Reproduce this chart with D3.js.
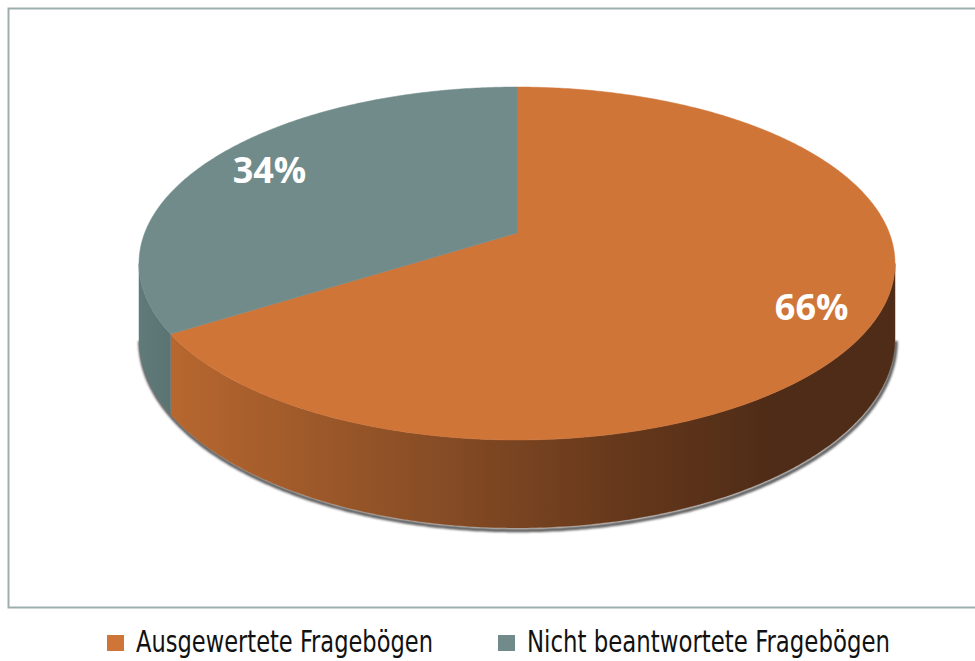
<!DOCTYPE html>
<html>
<head>
<meta charset="utf-8">
<script src="https://cdn.jsdelivr.net/npm/d3@7"></script>
<style>
html,body{margin:0;padding:0;background:#fff;}
svg{display:block;}
</style>
</head>
<body>
<svg id="chart" width="975" height="661"></svg>
<script>
const categories = ["Ausgewertete Fragebögen", "Nicht beantwortete Fragebögen"];
const values = [66, 34];
const valueLabels = ["66%", "34%"];
const topColors = ["#d07538", "#718b8a"];

const svg = d3.select("#chart");

// frame
svg.append("rect").attr("x", 8.5).attr("y", 8.5).attr("width", 980).attr("height", 599)
  .attr("fill", "none").attr("stroke", "#9dafad").attr("stroke-width", 2);

// 3D perspective pie geometry
const cx = 517, cy = 233;        // projected centre of the pie top
const k = 0.1728;                // perspective factor
const Ax = 372.3, By = 171.2;    // horizontal / vertical radius factors
const depth = 72.8;              // thickness
const rScale = d3.scaleLinear().domain([0, 1]).range([0, 1]);

function proj(a, r, z) {
  const X = rScale(r) * Math.sin(a);
  const Y = -rScale(r) * Math.cos(a);
  const w = 1 - k * Y;
  return [cx + Ax * X / w, cy + By * Y / w + z * depth / w];
}

const pie = d3.pie().sort(null).value(d => d)(values);

const defs = svg.append("defs");
const gO = defs.append("linearGradient").attr("id", "sideO")
  .attr("gradientUnits", "userSpaceOnUse").attr("x1", 172).attr("x2", 770).attr("y1", 0).attr("y2", 0);
gO.append("stop").attr("offset", 0).attr("stop-color", "#b7672f");
gO.append("stop").attr("offset", 0.45).attr("stop-color", "#864c25");
gO.append("stop").attr("offset", 0.75).attr("stop-color", "#66381b");
gO.append("stop").attr("offset", 1).attr("stop-color", "#4f2c17");
const gG = defs.append("linearGradient").attr("id", "sideG")
  .attr("gradientUnits", "userSpaceOnUse").attr("x1", 140).attr("x2", 180).attr("y1", 0).attr("y2", 0);
gG.append("stop").attr("offset", 0).attr("stop-color", "#607a79");
gG.append("stop").attr("offset", 1).attr("stop-color", "#587271");
const sideFills = ["url(#sideO)", "url(#sideG)"];

const blur = defs.append("filter").attr("id", "blur").attr("x", "-5%").attr("y", "-5%").attr("width", "110%").attr("height", "110%");
blur.append("feGaussianBlur").attr("stdDeviation", 1.2);

const line = d3.line();
function arcPts(a0, a1, r, z) {
  const n = Math.max(2, Math.ceil((a1 - a0) / 0.01));
  return d3.range(n + 1).map(i => proj(a0 + (a1 - a0) * i / n, r, z));
}

// visible side range
const visLo = Math.PI / 2 + Math.asin(k), visHi = 3 * Math.PI / 2 - Math.asin(k);

// shadow under the pie (bottom outline)
const shadowPts = arcPts(visLo, visHi, 1, 1).map(p => [p[0] + 1, p[1] + 2.5]);
svg.append("path").attr("d", line(shadowPts)).attr("fill", "none")
  .attr("stroke", "#5a5a5a").attr("stroke-width", 3.5).attr("filter", "url(#blur)");

// sides
pie.forEach((s, i) => {
  const a0 = Math.max(s.startAngle, visLo), a1 = Math.min(s.endAngle, visHi);
  if (a1 <= a0) return;
  const top = arcPts(a0, a1, 1, 0);
  const bot = arcPts(a0, a1, 1, 1).reverse();
  svg.append("path").attr("d", line(top.concat(bot)) + "Z")
    .attr("fill", sideFills[i]).attr("stroke", sideFills[i]).attr("stroke-width", 0.5);
});

// tops
pie.forEach((s, i) => {
  const pts = [proj(0, 0, 0)].concat(arcPts(s.startAngle, s.endAngle, 1, 0));
  svg.append("path").attr("d", line(pts) + "Z")
    .attr("fill", topColors[i]).attr("stroke", topColors[i]).attr("stroke-width", 0.5);
});

// labels
pie.forEach((s, i) => {
  const mid = (s.startAngle + s.endAngle) / 2;
  const p = proj(mid, i === 0 ? 0.84 : 0.81, 0);
  svg.append("text").attr("x", p[0]).attr("y", p[1]).attr("dy", "0.36em")
    .attr("text-anchor", "middle")
    .attr("font-family", "'Open Sans', sans-serif").attr("font-weight", "bold")
    .attr("font-size", 36).attr("fill", "#ffffff").text(valueLabels[i]);
});

// legend
const legX = [107, 498];
const targets = [297, 363];
categories.forEach((c, i) => {
  svg.append("rect").attr("x", legX[i]).attr("y", 635).attr("width", 17).attr("height", 16)
    .attr("fill", topColors[i]);
  const t = svg.append("text").attr("x", legX[i] + 29).attr("y", 652)
    .attr("font-family", "'Liberation Sans Narrow', 'DejaVu Sans Condensed', sans-serif")
    .attr("font-size", 31).attr("fill", "#111").text(c);
  const len = t.node().getComputedTextLength();
  if (Math.abs(len - targets[i]) > 4) {
    t.attr("textLength", targets[i]).attr("lengthAdjust", "spacingAndGlyphs");
  }
});
</script>
</body>
</html>
